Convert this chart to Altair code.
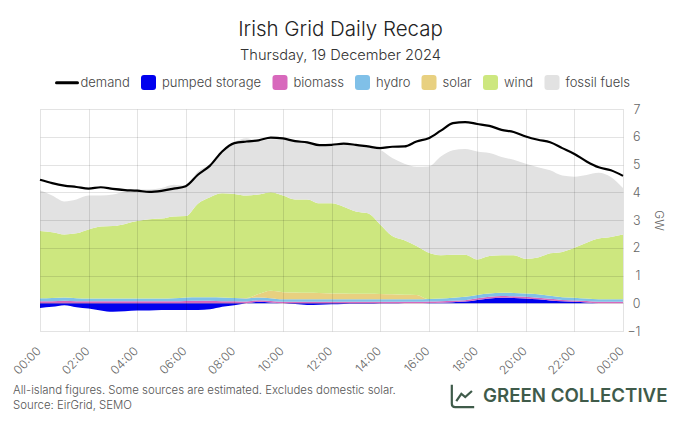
import altair as alt
import pandas as pd

times = pd.date_range("2024-12-19T00:00:00", periods=49, freq="30min").strftime("%Y-%m-%dT%H:%M:%S").tolist()
tick_times = times[::4]

demand = [4.45,4.33,4.24,4.19,4.13,4.18,4.12,4.08,4.06,4.01,4.05,4.13,4.22,4.63,4.96,5.47,5.77,5.83,5.87,5.97,5.94,5.84,5.80,5.70,
          5.71,5.75,5.71,5.65,5.59,5.64,5.65,5.83,5.95,6.22,6.49,6.53,6.46,6.39,6.25,6.17,6.01,5.89,5.80,5.59,5.38,5.11,4.90,4.79,4.59]
fossil_top = [4.07,3.88,3.67,3.74,3.88,3.88,3.92,4.03,4.10,4.10,4.15,4.27,4.24,4.75,5.00,5.41,5.80,5.95,5.83,5.91,5.91,5.84,5.83,5.70,
              5.71,5.73,5.71,5.63,5.53,5.23,5.03,4.92,4.93,5.29,5.51,5.56,5.47,5.41,5.27,5.17,5.03,4.90,4.79,4.60,4.56,4.62,4.70,4.55,4.15]
wind_top = [2.60,2.56,2.48,2.52,2.66,2.77,2.78,2.86,2.96,3.03,3.05,3.13,3.14,3.59,3.82,3.96,3.94,3.88,3.92,4.00,3.88,3.74,3.74,3.60,
            3.60,3.48,3.31,3.24,2.84,2.42,2.27,2.06,1.82,1.73,1.75,1.75,1.58,1.70,1.73,1.73,1.60,1.65,1.80,1.85,2.00,2.18,2.33,2.39,2.48]
solar = [0]*17 + [0.02,0.12,0.27,0.26,0.25,0.24,0.23,0.21,0.21,0.20,0.20,0.19,0.18,0.17,0.16] + [0]*17
hydro = [.11,.12,.12,.11,.10,.10,.10,.10,.10,.10,.10,.11,.13,.13,.13,.14,.12,.11,.10,.10,.09,.09,.09,.09,.09,
         .09,.09,.09,.09,.09,.09,.09,.09,.10,.11,.12,.12,.12,.12,.12,.12,.12,.11,.10,.10,.09,.09,.09,.09]
biomass = [.07,.07,.09,.07,.07,.07,.07,.07,.07,.07,.07,.07,.08,.09,.09,.07,.07,.06,.06,.05,.05,.05,.05,.05,.05,
           .05,.05,.05,.05,.05,.05,.05,.05,.05,.05,.05,.06,.06,.06,.06,.06,.06,.06,.05,.05,.05,.05,.05,.05]
pumped = [-.17,-.13,-.07,-.14,-.19,-.26,-.31,-.29,-.26,-.26,-.24,-.24,-.24,-.24,-.22,-.13,-.07,0,.05,.03,0,-.03,-.06,-.05,-.04,
          -.03,-.02,-.02,-.01,-.01,0,0,.01,.02,.04,.06,.12,.17,.20,.19,.17,.14,.10,.07,.05,.03,0,0,0]

sources = ["demand","pumped storage","biomass","hydro","solar","wind","fossil fuels"]
colors = ["#000000","#0000ee","#d868bc","#80c0e8","#e8d080","#cde77f","#e2e2e2"]
rounded = "M-0.6,-1 L0.6,-1 Q1,-1 1,-0.6 L1,0.6 Q1,1 0.6,1 L-0.6,1 Q-1,1 -1,0.6 L-1,-0.6 Q-1,-1 -0.6,-1 Z"
stroke_icon = "M-1.4,-0.2 L1.4,-0.2 Q1.6,-0.2 1.6,0 Q1.6,0.2 1.4,0.2 L-1.4,0.2 Q-1.6,0.2 -1.6,0 Q-1.6,-0.2 -1.4,-0.2 Z"
shapes = [stroke_icon] + [rounded]*6

rows = []
for i, t in enumerate(times):
    base = max(pumped[i], 0) + biomass[i] + hydro[i] + solar[i]
    vals = {"pumped storage": pumped[i], "biomass": biomass[i], "hydro": hydro[i], "solar": solar[i],
            "wind": round(wind_top[i] - base, 3), "fossil fuels": round(fossil_top[i] - wind_top[i], 3)}
    for s, v in vals.items():
        rows.append({"time": t, "source": s, "gw": v, "rank": sources.index(s)})
long_df = pd.DataFrame(rows)
demand_df = pd.DataFrame({"time": times, "gw": demand})
legend_df = pd.DataFrame({"time": [times[0]]*7, "gw": [0]*7, "source": sources})

FONT = "Inter"
x = alt.X("time:T", title=None, scale=alt.Scale(nice=False),
          axis=alt.Axis(format="%H:%M", values=tick_times, labelAngle=315, labelAlign="right",
                        labelFont=FONT, labelFontSize=12, labelColor="#666", labelFontWeight=300,
                        labelOverlap=False, labelPadding=14, labelOffset=-5,
                        grid=True, gridColor="#000", gridOpacity=0.11, domain=False, ticks=False, zindex=1))
y_scale = alt.Scale(domain=[-1, 7], nice=False)
y_axis = alt.Axis(orient="right", values=list(range(-1, 8)), tickCount=9, title="GW", titleFont=FONT, titleFontSize=12, titleFontWeight=300,
                  titleColor="#666", titlePadding=11, labelFont=FONT, labelFontSize=12.5, labelColor="#666", labelFontWeight=300,
                  labelAlign="right", labelOverlap=False, labelPadding=17,
                  grid=True, gridColor="#000", gridOpacity=0.11, domain=False, ticks=False, zindex=1)

color_scale = alt.Scale(domain=sources, range=colors)

areas = alt.Chart(long_df).mark_area(interpolate="monotone").encode(
    x=x,
    y=alt.Y("gw:Q", stack="zero", scale=y_scale, axis=y_axis),
    color=alt.Color("source:N", scale=color_scale),
    order=alt.Order("rank:Q"),
)
line = alt.Chart(demand_df).mark_line(color="#000", strokeWidth=2.2, interpolate="monotone").encode(
    x="time:T", y="gw:Q")

leg = alt.Legend(title=None, orient="none", legendX=19.5, legendY=-34, direction="horizontal",
                 symbolSize=225, symbolOpacity=1, symbolStrokeWidth=0,
                 labelFont=FONT, labelFontSize=13, labelFontWeight=300,
                 labelColor="#444", labelOffset=6, columnPadding=10.5)
legend_pts = alt.Chart(legend_df).mark_point(filled=True, opacity=0).encode(
    x="time:T", y=alt.Y("gw:Q"),
    color=alt.Color("source:N", scale=color_scale, legend=leg),
    shape=alt.Shape("source:N", scale=alt.Scale(domain=sources, range=shapes), legend=leg),
)

foot1 = alt.Chart(pd.DataFrame({"t": ["All-island figures. Some sources are estimated. Excludes domestic solar."]})).mark_text(
    align="left", baseline="middle", font=FONT, fontSize=11.4, color="#555", fontWeight=300).encode(
    text="t:N", x=alt.value(-27), y=alt.value(282))
foot2 = alt.Chart(pd.DataFrame({"t": ["Source: EirGrid, SEMO"]})).mark_text(
    align="left", baseline="middle", font=FONT, fontSize=11.4, color="#555", fontWeight=300).encode(
    text="t:N", x=alt.value(-27), y=alt.value(297))
logo = alt.Chart(pd.DataFrame({"t": ["GREEN COLLECTIVE"]})).mark_text(
    align="left", baseline="middle", font=FONT, fontSize=18.7, color="#3f5b4a", fontWeight=600).encode(
    text="t:N", x=alt.value(443), y=alt.value(287))
icon = alt.Chart(pd.DataFrame({"t": ["icon"]})).mark_point(
    filled=False, stroke="#3f5b4a", strokeWidth=2.2, opacity=1,
    shape="M-1,-1 L-1,0.7 Q-1,1 -0.7,1 L1,1 M-0.6,0.45 L-0.15,-0.2 L0.2,0.1 L0.8,-0.45", size=500).encode(
    x=alt.value(423), y=alt.value(287))

chart = alt.layer(areas, line, legend_pts, foot1, foot2, logo, icon).properties(
    width=583, height=222,
    background="white",
    padding={"left": 2, "top": 12, "right": 2, "bottom": 2},
    title=alt.TitleParams("Irish Grid Daily Recap", subtitle="Thursday, 19 December 2024", anchor="middle", dx=9, offset=12.5,
                          font=FONT, fontSize=20.5, fontWeight=300, color="#222",
                          subtitleFont=FONT, subtitleFontSize=14.6, subtitleFontWeight=300, subtitleColor="#333", subtitlePadding=7),
).configure_view(stroke=None)

chart.save("out.html", embed_options={"renderer": "svg", "actions": False})
